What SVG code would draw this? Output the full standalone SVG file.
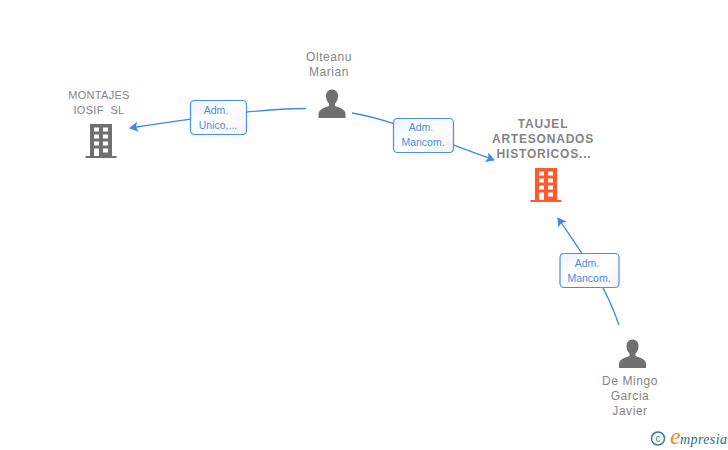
<svg xmlns="http://www.w3.org/2000/svg" width="728" height="450" viewBox="0 0 728 450">
<style>
.n{font-family:"Liberation Sans",Arial,sans-serif;font-size:12px;letter-spacing:.55px;fill:#868686;text-anchor:middle}
.c{font-weight:bold;letter-spacing:.8px;fill:#858585}
.co{font-size:11px;letter-spacing:.3px;white-space:pre}
.l{font-family:"Liberation Sans",Arial,sans-serif;font-size:10.500px;fill:#4a8ce2;text-anchor:middle}
.b{fill:url(#g);stroke:#4a8ee6;stroke-width:1.200}
.e{fill:none;stroke:#3f88e6;stroke-width:1.300}
.p{fill:#707070}
</style>
<defs>
<linearGradient id="g" x1="0" y1="0" x2="1" y2="1"><stop offset="0" stop-color="#eef4fc"/><stop offset=".5" stop-color="#fff"/><stop offset="1" stop-color="#f3f3f3"/></linearGradient>
<marker id="a" markerWidth="12" markerHeight="12" refX="8" refY="5" orient="auto" markerUnits="userSpaceOnUse"><path d="M0 0L9 5L0 10L2 5Z" fill="#3f88e6"/></marker>
<path id="person" d="M0-14.500c-4 0-6 3-6 6.500c0 3 1 5.500 3 7.500v2.500c-3 1.500-10.500 2.500-10.500 8v4h27v-4c0-5.500-7.500-6.500-10.500-8v-2.500c2-2 3-4.500 3-7.500c0-3.500-2-6.500-6-6.500Z"/>
<path id="bld" fill-rule="evenodd" d="M-11-17H11V15H15.500V17H-15.500V15H-11ZM-7-13.500V-9.500H-2V-13.500ZM2-13.500V-9.500H7V-13.500ZM-7-6.500V-2.500H-2V-6.500ZM2-6.500V-2.500H7V-6.500ZM-7 .5V4.500H-2V.5ZM2 .5V4.500H7V.5ZM-7 7.500V15H-2V7.500ZM2 7.500V11.500H7V7.500Z"/>
</defs>
<g id="connectors">
<path class="e" d="M306 108.500C270 108.800 235 112 130 128" marker-end="url(#a)"/>
<path class="e" d="M352 113C385 118 425 135 494 160" marker-end="url(#a)"/>
<path class="e" d="M619 325C605 285 590 265 558 218" marker-end="url(#a)"/>
</g>
<g id="node-montajes">
<text class="n co" x="99" y="99">MONTAJES</text><text class="n co" x="99" y="114">IOSIF  SL</text>
<use href="#bld" x="101" y="141" class="p"/>
</g>
<g id="node-olteanu">
<text class="n" x="329" y="61">Olteanu</text><text class="n" x="329" y="76">Marian</text>
<use href="#person" x="332" y="104" class="p"/>
</g>
<g id="node-taujel">
<text class="n c" x="543" y="128">TAUJEL</text><text class="n c" x="543" y="143">ARTESONADOS</text><text class="n c" x="544" y="158">HISTORICOS...</text>
<use href="#bld" x="546" y="185" fill="#ff5a2c"/>
</g>
<g id="node-demingo">
<use href="#person" x="632.500" y="354" class="p"/>
<text class="n" x="630" y="385">De Mingo</text><text class="n" x="630" y="400">Garcia</text><text class="n" x="630" y="415">Javier</text>
</g>
<g id="label-1"><rect class="b" x="190.500" y="100.500" width="56" height="34" rx="4"/><text class="l" x="216" y="114">Adm.</text><text class="l" x="218" y="129">Unico,...</text></g>
<g id="label-2"><rect class="b" x="393.500" y="118.500" width="60" height="34" rx="4"/><text class="l" x="421" y="131">Adm.</text><text class="l" x="423" y="146">Mancom.</text></g>
<g id="label-3"><rect class="b" x="560" y="253.500" width="59" height="34" rx="4"/><text class="l" x="587" y="267">Adm.</text><text class="l" x="589" y="282">Mancom.</text></g>
<g id="logo">
<circle cx="658" cy="438.500" r="6.500" fill="none" stroke="#2f7f8f" stroke-width="1.500"/>
<text x="658" y="442" font-family="Liberation Sans,sans-serif" font-size="10" fill="#2f7f8f" text-anchor="middle">c</text>
<text x="670" y="444" font-family="Liberation Serif,serif" font-style="italic" font-size="24" fill="#f08a1d">e</text>
<text x="680" y="444" font-family="Liberation Serif,serif" font-style="italic" font-size="14" letter-spacing=".4" fill="#1f6f80">mpresia</text>
</g>
</svg>
